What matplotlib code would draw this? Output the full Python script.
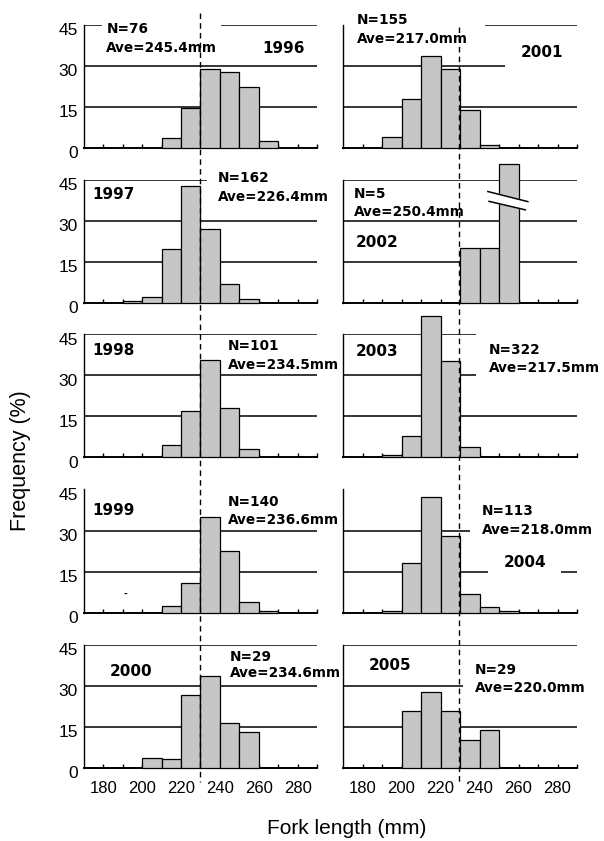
import matplotlib
matplotlib.use("Agg")
import matplotlib.pyplot as plt
import numpy as np
from matplotlib.lines import Line2D
from matplotlib.transforms import blended_transform_factory, ScaledTranslation

plt.rcParams['font.family'] = ['Liberation Sans', 'DejaVu Sans']

# ---- data ----
years = [1996, 1997, 1998, 1999, 2000, 2001, 2002, 2003, 2004, 2005]
n_fish = [76, 162, 101, 140, 29, 155, 5, 322, 113, 29]
ave_fl = [245.4, 226.4, 234.5, 236.6, 234.6, 217.0, 250.4, 217.5, 218.0, 220.0]

# left edge of each 10 mm class and frequency (%)
bins_1996 = [210, 220, 230, 240, 250, 260]
freq_1996 = [3.5, 14.5, 28.9, 27.6, 22.2, 2.3]
bins_1997 = [190, 200, 210, 220, 230, 240, 250]
freq_1997 = [0.6, 2.0, 19.6, 42.5, 27.0, 6.6, 1.2]
bins_1998 = [210, 220, 230, 240, 250]
freq_1998 = [4.7, 17.0, 35.8, 18.0, 3.1]
bins_1999 = [210, 220, 230, 240, 250, 260]
freq_1999 = [2.2, 10.7, 35.0, 22.6, 3.7, 0.7]
bins_2000 = [200, 210, 220, 230, 240, 250]
freq_2000 = [3.4, 3.2, 26.6, 33.4, 16.4, 13.1]
bins_2001 = [190, 200, 210, 220, 230, 240]
freq_2001 = [4.0, 17.7, 33.3, 28.8, 13.8, 1.0]
bins_2002 = [230, 240, 250]
freq_2002 = [20.0, 20.0, 60.0]
bins_2003 = [190, 200, 210, 220, 230]
freq_2003 = [1.0, 7.8, 51.6, 35.2, 3.7]
bins_2004 = [190, 200, 210, 220, 230, 240, 250]
freq_2004 = [0.4, 18.0, 42.4, 28.1, 6.8, 2.1, 0.4]
bins_2005 = [200, 210, 220, 230, 240]
freq_2005 = [20.5, 27.7, 20.5, 10.2, 13.6]

all_bins = [bins_1996, bins_1997, bins_1998, bins_1999, bins_2000,
            bins_2001, bins_2002, bins_2003, bins_2004, bins_2005]
all_freq = [freq_1996, freq_1997, freq_1998, freq_1999, freq_2000,
            freq_2001, freq_2002, freq_2003, freq_2004, freq_2005]

ref_length = 229.5      # dashed reference line
broken_top = 50.6       # 2002 tall bar is drawn broken at this height

# label layout per panel: (year x, year y, year ha, year pad), (N x, N y, N pad, linespacing)
year_pos = [(272.6, 36.3, 'center', None), (174.2, 39.6, 'left', None), (174.2, 39.2, 'left', None),
            (174.2, 37.4, 'left', None), (183.2, 35.1, 'left', None),
            (272.0, 34.9, 'center', 1.0), (176.5, 22.1, 'left', None), (176.5, 38.6, 'left', None),
            (252.2, 18.4, 'left', 1.0), (183.3, 37.4, 'left', None)]
n_pos = [(181.5, 39.9, 0.3, 1.4), (239.0, 42.0, 0.8, 1.4), (244.1, 37.3, None, 1.4),
         (244.1, 37.1, None, 1.4), (245.0, 37.5, None, 1.15),
         (177.3, 43.1, 1.2, 1.4), (175.6, 36.5, None, 1.4), (244.6, 36.0, 0.9, 1.4),
         (241.2, 33.6, 0.9, 1.4), (237.8, 32.4, 0.9, 1.4)]

fig = plt.figure(figsize=(6.04, 8.41), dpi=100)

col_left = [84 / 604, 343 / 604]
col_width = [233 / 604, 234 / 604]
row_h = 123 / 841

axes = []
for i, yr in enumerate(years):
    col = i // 5
    row = i % 5
    bottom = 1 - (147.5 + 155 * row) / 841
    ax = fig.add_axes([col_left[col], bottom, col_width[col], row_h])
    axes.append(ax)

    ax.set_xlim(170, 290)
    ax.set_ylim(0, 45)
    for s in ['top', 'right']:
        ax.spines[s].set_visible(False)
    ax.spines['left'].set_linewidth(1.0)
    ax.spines['bottom'].set_linewidth(1.4)

    for g in [15, 30, 45]:
        ax.axhline(g, color='black', lw=1.1, zorder=1)

    heights = np.array(all_freq[i])
    if yr == 2002:
        heights = np.minimum(heights, broken_top)
    ax.bar(all_bins[i], heights, width=10, align='edge', color='#c6c6c6',
           edgecolor='black', linewidth=0.9, zorder=3, clip_on=False)

    if yr == 2002:
        x0 = all_bins[i][-1] + 5
        brk = np.array([[-10.7, 3.1], [9.8, -0.6], [8.5, -3.6], [-10.1, -0.5]])
        brk[:, 0] += x0
        brk[:, 1] += 37.5
        ax.fill(brk[:, 0], brk[:, 1], color='white', zorder=4, clip_on=False)
        ax.plot(brk[:2, 0], brk[:2, 1], color='black', lw=1.1, zorder=5, clip_on=False)
        ax.plot(brk[2:, 0], brk[2:, 1], color='black', lw=1.1, zorder=5, clip_on=False)

    # ticks
    ax.set_xticks(np.arange(180, 281, 20))
    ax.set_xticks(np.arange(190, 291, 20), minor=True)
    ax.tick_params(axis='x', which='both', direction='in', length=3, width=1.0,
                   labelsize=12, pad=9.5)
    if row != 4:
        ax.tick_params(axis='x', labelbottom=False)
    ax.set_yticks([0, 15, 30, 45])
    ax.tick_params(axis='y', length=0, labelsize=12.5, pad=4.5)
    if col == 1:
        ax.tick_params(axis='y', labelleft=False)
    else:
        off = ScaledTranslation(0, -3.5 / 72, fig.dpi_scale_trans)
        for lab in ax.get_yticklabels():
            lab.set_transform(lab.get_transform() + off)

    # labels
    yx, yy, yha, ypad = year_pos[i]
    ybox = dict(boxstyle='square,pad=%s' % ypad, fc='white', ec='none') if ypad else None
    ax.text(yx, yy, str(yr), fontsize=11, fontweight='bold', family='DejaVu Sans',
            ha=yha, va='center', bbox=ybox, zorder=2, clip_on=False)

    nx, ny, npad, nls = n_pos[i]
    nbox = dict(boxstyle='square,pad=%s' % npad, fc='white', ec='none') if npad else None
    ax.text(nx, ny, 'N=%d\nAve=%.1fmm' % (n_fish[i], ave_fl[i]), fontsize=9.8,
            fontweight='bold', family='DejaVu Sans', ha='left', va='center',
            linespacing=nls, bbox=nbox, zorder=2, clip_on=False)

    if yr == 1999:
        ax.text(191.2, 6.8, '-', fontsize=8, fontweight='bold', ha='center', va='center')

# dashed reference line running through each column
for col, top_px in [(0, 13), (1, 27)]:
    tr = blended_transform_factory(axes[col * 5].transData, fig.transFigure)
    fig.add_artist(Line2D([ref_length, ref_length], [1 - top_px / 841, 1 - 782 / 841],
                          transform=tr, color='black', lw=1.0, ls=(0, (4, 3)), zorder=5))

fig.text(347 / 604, 1 - 828 / 841, 'Fork length (mm)', fontsize=15, ha='center', va='center')
fig.text(21 / 604, 1 - 461 / 841, 'Frequency (%)', fontsize=15.5, rotation=90,
         ha='center', va='center')

fig.savefig('out.png', dpi=100)
